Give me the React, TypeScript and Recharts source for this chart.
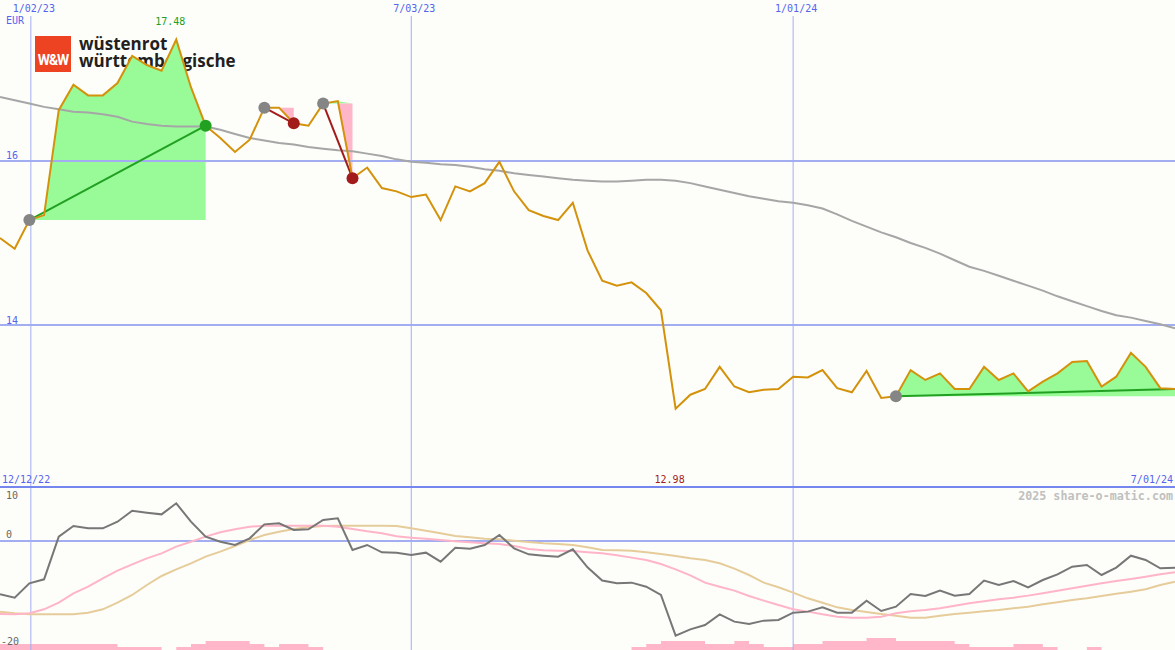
import React from 'react';
import { Area, ComposedChart, Line, ReferenceDot, ReferenceLine, XAxis, YAxis } from 'recharts';

// weekly closes, EUR
const priceClose = [
  15.06, 14.93, 15.28, 15.34, 16.62, 16.93, 16.8, 16.8, 16.95, 17.28,
  17.17, 17.1, 17.48, 16.9, 16.43, 16.28, 16.11, 16.26, 16.65, 16.65,
  16.46, 16.43, 16.7, 16.73, 15.79, 15.92, 15.67, 15.63, 15.56, 15.59,
  15.28, 15.69, 15.63, 15.73, 15.99, 15.63, 15.4, 15.33, 15.28, 15.49,
  14.91, 14.54, 14.48, 14.52, 14.39, 14.18, 12.98, 13.15, 13.22, 13.49,
  13.25, 13.18, 13.21, 13.22, 13.37, 13.36, 13.45, 13.23, 13.18, 13.44,
  13.11, 13.13, 13.45, 13.33, 13.41, 13.22, 13.22, 13.49, 13.33, 13.41,
  13.19, 13.31, 13.41, 13.55, 13.56, 13.25, 13.37, 13.66, 13.49, 13.23, 13.22
];

// long moving average
const priceAvg = [
  16.78, 16.74, 16.7, 16.66, 16.63, 16.6, 16.59, 16.57, 16.54, 16.48,
  16.45, 16.43, 16.42, 16.42, 16.42, 16.38, 16.33, 16.28, 16.25, 16.22,
  16.2, 16.17, 16.15, 16.13, 16.12, 16.09, 16.06, 16.02, 15.99, 15.98,
  15.96, 15.95, 15.93, 15.9, 15.88, 15.85, 15.83, 15.81, 15.79, 15.77,
  15.76, 15.75, 15.75, 15.76, 15.77, 15.77, 15.76, 15.73, 15.69, 15.65,
  15.61, 15.57, 15.54, 15.51, 15.49, 15.46, 15.42, 15.35, 15.27, 15.2,
  15.13, 15.07, 15.0, 14.94, 14.87, 14.79, 14.71, 14.66, 14.6, 14.54,
  14.48, 14.42, 14.35, 14.29, 14.23, 14.17, 14.12, 14.09, 14.05, 14.01, 13.96
];

// lower panel: momentum and its two averages
const momentum = [
  -10.06, -10.69, -7.99, -7.23, 0.81, 2.83, 2.39, 2.39, 3.64, 5.72,
  5.35, 5.03, 7.11, 3.64, 0.81, -0.13, -0.75, 0.5, 3.14, 3.33,
  2.08, 2.2, 3.96, 4.28, -1.7, -0.75, -2.14, -2.2, -2.64, -2.2,
  -3.9, -1.26, -1.45, -0.75, 1.13, -1.38, -2.52, -2.77, -2.96, -1.57,
  -4.97, -7.45, -7.99, -7.86, -8.62, -10.19, -17.86, -16.67, -15.85, -13.84,
  -15.22, -15.66, -15.03, -14.91, -13.52, -13.33, -12.52, -13.52, -13.52, -11.26,
  -13.21, -12.39, -10.0, -10.38, -9.37, -10.31, -10.0, -7.48, -8.3, -7.55,
  -8.74, -7.36, -6.29, -4.84, -4.53, -6.42, -5.03, -2.77, -3.58, -5.16, -5.03
];

const momentumFast = [
  -13.77, -13.84, -13.65, -12.89, -11.64, -9.87, -8.62, -7.04, -5.6, -4.4,
  -3.27, -2.33, -1.07, -0.13, 0.82, 1.64, 2.2, 2.7, 2.89, 2.89,
  2.89, 2.89, 2.89, 2.7, 2.26, 1.82, 1.45, 0.88, 0.63, 0.44,
  0.19, -0.06, -0.25, -0.44, -0.57, -0.94, -1.51, -1.76, -1.82, -1.89,
  -2.14, -2.33, -2.7, -3.14, -3.58, -4.34, -5.35, -6.48, -7.86, -8.62,
  -9.37, -10.38, -11.26, -12.08, -12.89, -13.33, -13.84, -14.28, -14.47, -14.47,
  -14.28, -13.65, -13.27, -13.02, -12.7, -12.2, -11.76, -11.38, -11.0, -10.69,
  -10.31, -9.87, -9.37, -8.93, -8.43, -7.99, -7.55, -7.17, -6.73, -6.29, -5.91
];

const momentumSlow = [
  -13.33, -13.65, -13.84, -13.84, -13.84, -13.84, -13.52, -12.89, -11.64, -10.19,
  -8.3, -6.6, -5.35, -4.21, -2.96, -2.01, -0.94, 0.19, 1.13, 1.76,
  2.26, 2.58, 2.83, 2.89, 2.89, 2.89, 2.89, 2.83, 2.39, 1.95,
  1.45, 0.94, 0.69, 0.44, 0.31, 0.06, -0.19, -0.44, -0.57, -0.75,
  -1.2, -1.7, -1.76, -1.82, -2.14, -2.45, -2.83, -3.27, -3.58, -4.21,
  -5.22, -6.42, -7.86, -8.74, -9.75, -10.82, -11.64, -12.52, -13.02, -13.4,
  -13.77, -14.09, -14.47, -14.47, -14.09, -13.77, -13.52, -13.27, -13.02, -12.7,
  -12.39, -11.95, -11.57, -11.13, -10.82, -10.38, -9.94, -9.56, -9.12, -8.3, -7.67
];

// relative volume steps at the bottom
const volumeLevel = [
  2, 2, 2, 2, 2, 2, 2, 2, 1, 1,
  1, 0, 1, 2, 3, 3, 3, 2, 1, 2,
  2, 1, 0, 0, 0, 0, 0, 0, 0, 0,
  0, 0, 0, 0, 0, 0, 0, 0, 0, 0,
  0, 0, 0, 1, 2, 3, 3, 3, 2, 2,
  3, 2, 1, 1, 2, 2, 3, 3, 3, 4,
  4, 3, 3, 3, 3, 2, 1, 1, 1, 2,
  2, 1, 0, 0, 1, 0, 0, 0, 0, 0, 0
];

const dateMarks = [
  { week: 2.1, label: '1/02/23' },
  { week: 28, label: '7/03/23' },
  { week: 54, label: '1/01/24' }
];
const firstDate = '12/12/22';
const lastDate = '7/01/24';
const priceTicks = [16, 14];
const logoLines = ['wüstenrot', 'württembergische'];

const trends = [
  { from: 2, to: 14, open: false },
  { from: 18, to: 20, open: false },
  { from: 22, to: 24, open: false },
  { from: 61, to: 80, open: true }
];

const W = 1175;
const TOP_H = 488;
const BOT_H = 162;
const PRICE_DOMAIN: [number, number] = [12.037, 17.768];
const MOM_DOMAIN: [number, number] = [-20.57, 10];
const LAST = priceClose.length - 1;

const BG = '#fdfefa';
const GRID = '#a3adf1';
const DATE_TEXT = '#5464ee';
const GREEN = '#22a022';
const RED = '#a31c1c';
const FONT = '"DejaVu Sans Mono", monospace';

const rows = priceClose.map((close, i) => {
  const row: Record<string, any> = {
    week: i,
    close,
    avg: priceAvg[i],
    mom: momentum[i],
    fast: momentumFast[i],
    slow: momentumSlow[i],
    vol: volumeLevel[i],
    gain: null,
    loss: null
  };
  trends.forEach((t, k) => {
    const base = priceClose[t.from];
    if (i >= t.from && i <= t.to) {
      row.gain = [base, Math.max(close, base)];
      row.loss = [Math.min(close, base), base];
    }
    row['trend' + k] = i === t.from || i === t.to ? close : null;
  });
  return row;
});

const maxIdx = priceClose.indexOf(Math.max(...priceClose));
const minIdx = priceClose.indexOf(Math.min(...priceClose));

type TagOpts = {
  fill: string;
  dx?: number;
  dy?: number;
  y?: number;
  anchor?: 'start' | 'middle' | 'end';
  fromLeft?: boolean;
};

const tag = (text: string, o: TagOpts) => (props: any) => {
  const vb = props.viewBox ?? {};
  const bx = o.fromLeft ? vb.x : vb.x + (vb.width ?? 0) / 2;
  const by = o.y ?? vb.y;
  return (
    <text
      x={bx + (o.dx ?? 0)}
      y={by + (o.dy ?? 0)}
      textAnchor={o.anchor ?? 'middle'}
      dominantBaseline="central"
      fontFamily={FONT}
      fontSize={10}
      fill={o.fill}
    >
      {text}
    </text>
  );
};

function Logo() {
  return (
    <>
      <div style={{ position: 'absolute', left: 35, top: 36, width: 36, height: 36, background: '#ee4323' }}>
        <div
          style={{
            position: 'absolute',
            left: 0,
            width: 36,
            top: 16,
            textAlign: 'center',
            color: '#fff',
            font: 'bold 14px Roboto, sans-serif',
            letterSpacing: -1,
            lineHeight: '16px'
          }}
        >
          W&amp;W
        </div>
      </div>
      {logoLines.map((line, k) => (
        <div
          key={line}
          style={{
            position: 'absolute',
            left: 79,
            top: 37 + k * 17,
            height: 17,
            font: 'bold 17px "Open Sans", sans-serif',
            lineHeight: '13px',
            color: '#231f20',
            whiteSpace: 'nowrap'
          }}
        >
          {line}
        </div>
      ))}
    </>
  );
}

export default function App() {
  return (
    <div style={{ position: 'absolute', left: 0, top: 0, width: W, height: TOP_H + BOT_H, background: BG, overflow: 'hidden' }}>
      <Logo />
      <div style={{ position: 'absolute', left: 6, top: 15, font: `10px ${FONT}`, lineHeight: '12px', color: DATE_TEXT }}>EUR</div>

      <div style={{ position: 'absolute', left: 0, top: 0 }}>
        <ComposedChart width={W} height={TOP_H} data={rows} margin={{ top: 16, right: 0, bottom: 2, left: 0 }}>
          <XAxis dataKey="week" type="number" domain={[0, LAST]} allowDataOverflow hide />
          <YAxis type="number" domain={PRICE_DOMAIN} allowDataOverflow hide />

          {priceTicks.map((v) => (
            <ReferenceLine
              key={'h' + v}
              y={v}
              stroke={GRID}
              strokeWidth={2}
              label={tag(String(v), { fill: DATE_TEXT, fromLeft: true, dx: 6, dy: -5, anchor: 'start' })}
            />
          ))}
          {dateMarks.map((d) => (
            <ReferenceLine
              key={d.label}
              x={d.week}
              stroke={GRID}
              strokeWidth={1}
              label={tag(d.label, { fill: DATE_TEXT, y: 8, dx: 3 })}
            />
          ))}
          <ReferenceLine x={0} stroke="none" label={tag(firstDate, { fill: DATE_TEXT, y: 479, dx: 2, anchor: 'start' })} />
          <ReferenceLine x={LAST} stroke="none" label={tag(lastDate, { fill: DATE_TEXT, y: 479, dx: -2, anchor: 'end' })} />
          <ReferenceLine x={maxIdx} stroke="none" label={tag(priceClose[maxIdx].toFixed(2), { fill: GREEN, y: 21, dx: -6 })} />
          <ReferenceLine x={minIdx} stroke="none" label={tag(priceClose[minIdx].toFixed(2), { fill: RED, y: 479, dx: -6 })} />

          <Area dataKey="gain" type="linear" stroke="none" fill="#98fb98" fillOpacity={1} dot={false} activeDot={false} isAnimationActive={false} />
          <Area dataKey="loss" type="linear" stroke="none" fill="#ffb6c8" fillOpacity={1} dot={false} activeDot={false} isAnimationActive={false} />

          <Line dataKey="avg" type="linear" stroke="#a6a6a6" strokeWidth={2} dot={false} activeDot={false} isAnimationActive={false} />
          {trends.map((t, k) => (
            <Line
              key={'t' + k}
              dataKey={'trend' + k}
              type="linear"
              connectNulls
              stroke={priceClose[t.to] >= priceClose[t.from] ? GREEN : RED}
              strokeWidth={2}
              dot={false}
              activeDot={false}
              isAnimationActive={false}
            />
          ))}
          <Line dataKey="close" type="linear" stroke="#d4920c" strokeWidth={2} dot={false} activeDot={false} isAnimationActive={false} />

          {trends.map((t, k) => (
            <ReferenceDot key={'s' + k} x={t.from} y={priceClose[t.from]} r={6} fill="#858585" stroke="none" />
          ))}
          {trends
            .filter((t) => !t.open)
            .map((t, k) => (
              <ReferenceDot
                key={'e' + k}
                x={t.to}
                y={priceClose[t.to]}
                r={6}
                fill={priceClose[t.to] >= priceClose[t.from] ? GREEN : RED}
                stroke="none"
              />
            ))}
        </ComposedChart>
      </div>

      <div style={{ position: 'absolute', left: 0, top: TOP_H - 2, width: W, height: 2, background: '#7686ef' }} />
      <div
        style={{
          position: 'absolute',
          right: 2,
          top: 489,
          font: `bold 11.7px ${FONT}`,
          lineHeight: '14px',
          color: '#c0c0c0'
        }}
      >
        2025 share-o-matic.com
      </div>

      <div style={{ position: 'absolute', left: 0, top: TOP_H }}>
        <ComposedChart width={W} height={BOT_H} data={rows} margin={{ top: 0, right: 0, bottom: 0, left: 0 }}>
          <XAxis dataKey="week" type="number" domain={[0, LAST]} allowDataOverflow hide />
          <YAxis type="number" domain={MOM_DOMAIN} allowDataOverflow hide />
          <YAxis yAxisId="vol" type="number" domain={[0, BOT_H / 3]} allowDataOverflow hide />

          {dateMarks.map((d) => (
            <ReferenceLine key={d.label} x={d.week} stroke={GRID} strokeWidth={1} />
          ))}
          <ReferenceLine y={0} stroke={GRID} strokeWidth={2} label={tag('0', { fill: '#666', fromLeft: true, dx: 6, dy: -6, anchor: 'start' })} />
          <ReferenceLine y={10} stroke="none" label={tag('10', { fill: '#666', fromLeft: true, dx: 6, dy: 7, anchor: 'start' })} />
          <ReferenceLine y={-20} stroke="none" label={tag('-20', { fill: '#666', fromLeft: true, dx: 1, dy: -5, anchor: 'start' })} />

          <Area yAxisId="vol" dataKey="vol" type="stepAfter" stroke="none" fill="#ffb6c8" fillOpacity={1} dot={false} activeDot={false} isAnimationActive={false} />
          <Line dataKey="slow" type="linear" stroke="#e6cc9a" strokeWidth={2} dot={false} activeDot={false} isAnimationActive={false} />
          <Line dataKey="fast" type="linear" stroke="#ffb4c8" strokeWidth={2} dot={false} activeDot={false} isAnimationActive={false} />
          <Line dataKey="mom" type="linear" stroke="#777777" strokeWidth={2} dot={false} activeDot={false} isAnimationActive={false} />
        </ComposedChart>
      </div>
    </div>
  );
}
